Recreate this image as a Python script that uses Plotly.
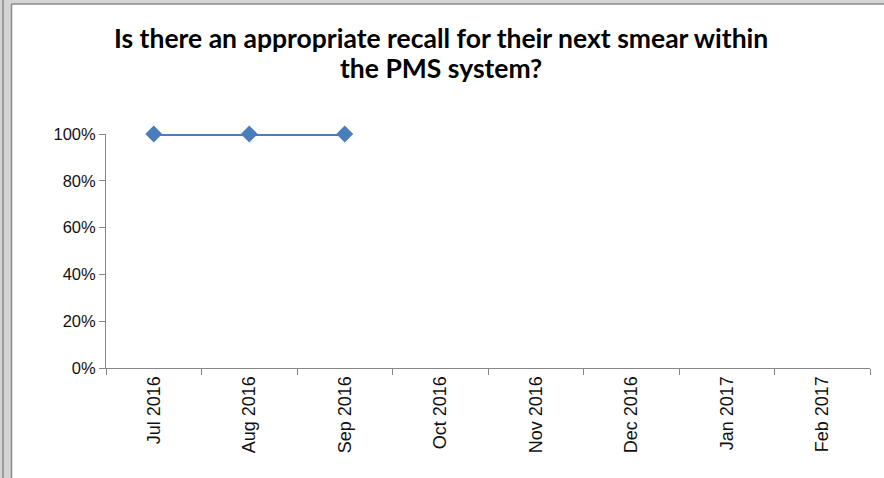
import plotly.graph_objects as go

months = ["Jul 2016", "Aug 2016", "Sep 2016", "Oct 2016", "Nov 2016", "Dec 2016", "Jan 2017", "Feb 2017"]
values = [1.0, 1.0, 1.0, None, None, None, None, None]
y_ticks = [0, 0.2, 0.4, 0.6, 0.8, 1.0]
y_tick_labels = ["0%", "20%", "40%", "60%", "80%", "100%"]
title_lines = ["Is there an appropriate recall for their next smear within", "the PMS system?"]

W, H = 884, 478
L, R, T, B = 106, 14, 134, 110
pw, ph = W - L - R, H - T - B

def px(p):
    return (p - L) / pw

def py(p):
    return (H - B - p) / ph

fig = go.Figure()
fig.add_trace(go.Scatter(
    x=months, y=values, mode="lines+markers",
    line=dict(color="#4A7EBB", width=4),
    marker=dict(symbol="diamond", size=13, color="#4A7EBB"),
    connectgaps=False, showlegend=False, cliponaxis=False,
))

shapes = [
    dict(type="rect", xref="paper", yref="paper", x0=px(0), x1=px(12), y0=py(H), y1=py(0),
         fillcolor="#d4d4d4", line=dict(width=0), layer="below"),
    dict(type="line", xref="paper", yref="paper", x0=px(3), x1=px(3), y0=py(H), y1=py(0),
         line=dict(color="#8a8a8a", width=1.5)),
    dict(type="line", xref="paper", yref="paper", x0=px(11.5), x1=px(11.5), y0=py(H), y1=py(4),
         line=dict(color="#8a8a8a", width=1.5)),
    dict(type="rect", xref="paper", yref="paper", x0=px(12), x1=px(W), y0=py(4), y1=py(0),
         fillcolor="#d4d4d4", line=dict(width=0), layer="below"),
    dict(type="line", xref="paper", yref="paper", x0=px(11.5), x1=px(W), y0=py(4), y1=py(4),
         line=dict(color="#8a8a8a", width=1.5)),
]

annotations = []
for line, yc in zip(title_lines, [38, 68]):
    annotations.append(dict(
        text=line, xref="paper", yref="paper", x=px(441), y=py(yc),
        xanchor="center", yanchor="middle", showarrow=False,
        font=dict(family="Lato, Open Sans, sans-serif", size=26.5, color="#000000", weight="bold"),
    ))

fig.update_layout(
    width=W, height=H,
    margin=dict(l=L, r=R, t=T, b=B),
    paper_bgcolor="white", plot_bgcolor="white",
    shapes=shapes, annotations=annotations,
    xaxis=dict(
        type="category", categoryorder="array", categoryarray=months,
        range=[-0.5, len(months) - 0.5],
        showline=True, linecolor="#868686", linewidth=1,
        ticks="outside", tickson="boundaries", ticklen=6, tickcolor="#868686",
        tickangle=-90, showgrid=False, zeroline=False,
        tickfont=dict(family="Liberation Sans, Arial, sans-serif", size=18, color="#111111"),
    ),
    yaxis=dict(
        range=[0, 1], tickvals=y_ticks, ticktext=y_tick_labels,
        showline=True, linecolor="#868686", linewidth=1,
        ticks="outside", ticklen=6, tickcolor="#868686",
        showgrid=False, zeroline=False,
        tickfont=dict(family="Liberation Sans, Arial, sans-serif", size=16.5, color="#111111"),
    ),
)

fig.write_html("out.html", config={"displayModeBar": False},
               post_script="document.body.style.margin='0';document.body.style.overflow='hidden';")
